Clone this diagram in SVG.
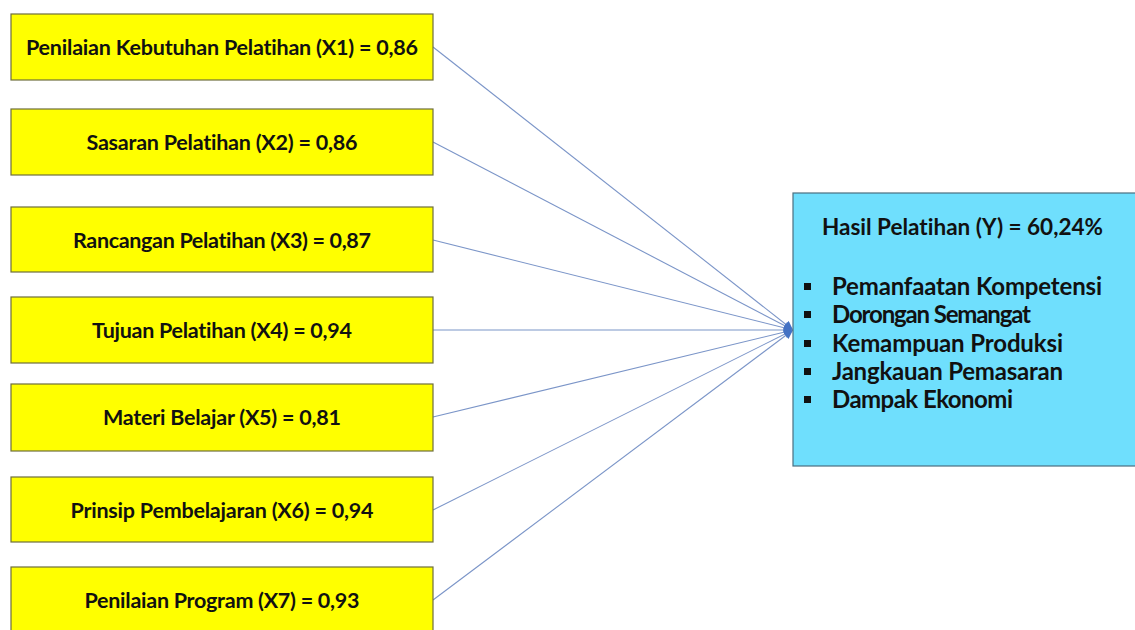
<svg xmlns="http://www.w3.org/2000/svg" width="1135" height="630" viewBox="0 0 1135 630">
<style>
.bx{fill:#ffff00;stroke:#6e6e3c;stroke-width:1.2}
.by{fill:#6fdffd;stroke:#4b6f80;stroke-width:1.2}
.t{font-family:Lato,"Liberation Sans",sans-serif;font-weight:bold;font-size:21.5px;fill:#111;text-anchor:middle;font-variant-ligatures:none;font-feature-settings:"liga" 0,"clig" 0,"dlig" 0}
.tr{font-family:Lato,"Liberation Sans",sans-serif;font-weight:bold;fill:#111;font-variant-ligatures:none;font-feature-settings:"liga" 0,"clig" 0,"dlig" 0}
.c{stroke:#7b95c8;stroke-width:1.1;fill:none}
</style>
<defs>
<marker id="ah" viewBox="0 0 10 10" refX="10" refY="5" markerWidth="10" markerHeight="9" markerUnits="userSpaceOnUse" orient="auto">
<path d="M0,0 L10,5 L0,10 z" fill="#4472c4"/>
</marker>
</defs>
<rect width="1135" height="630" fill="#ffffff"/>
<g id="connectors">
<line class="c" x1="433" y1="47" x2="793" y2="330" marker-end="url(#ah)"/>
<line class="c" x1="433" y1="142" x2="793" y2="330" marker-end="url(#ah)"/>
<line class="c" x1="433" y1="240" x2="793" y2="330" marker-end="url(#ah)"/>
<line class="c" x1="433" y1="330" x2="793" y2="330" marker-end="url(#ah)"/>
<line class="c" x1="433" y1="417" x2="793" y2="330" marker-end="url(#ah)"/>
<line class="c" x1="433" y1="510" x2="793" y2="330" marker-end="url(#ah)"/>
<line class="c" x1="433" y1="600" x2="793" y2="330" marker-end="url(#ah)"/>
</g>
<g id="x1"><rect class="bx" x="11" y="14" width="422" height="66"/><text class="t" x="222" y="55" textLength="392">Penilaian Kebutuhan Pelatihan (X1) = 0,86</text></g>
<g id="x2"><rect class="bx" x="11" y="109" width="422" height="66"/><text class="t" x="222" y="150" textLength="271">Sasaran Pelatihan (X2) = 0,86</text></g>
<g id="x3"><rect class="bx" x="11" y="207" width="422" height="65"/><text class="t" x="222" y="248" textLength="298">Rancangan Pelatihan (X3) = 0,87</text></g>
<g id="x4"><rect class="bx" x="11" y="297" width="422" height="66"/><text class="t" x="222" y="338" textLength="260">Tujuan Pelatihan (X4) = 0,94</text></g>
<g id="x5"><rect class="bx" x="11" y="384" width="422" height="67"/><text class="t" x="222" y="425" textLength="238">Materi Belajar (X5) = 0,81</text></g>
<g id="x6"><rect class="bx" x="11" y="477" width="422" height="65"/><text class="t" x="222" y="518" textLength="303">Prinsip Pembelajaran (X6) = 0,94</text></g>
<g id="x7"><rect class="bx" x="11" y="567" width="422" height="66"/><text class="t" x="222" y="608" textLength="275">Penilaian Program (X7) = 0,93</text></g>
<g id="y">
<rect class="by" x="793" y="193" width="345" height="273"/>
<text class="tr" x="822" y="235" font-size="22.5" textLength="281">Hasil Pelatihan (Y) = 60,24%</text>
<g fill="#111">
<rect x="804" y="283" width="7" height="7"/>
<rect x="804" y="311" width="7" height="7"/>
<rect x="804" y="340" width="7" height="7"/>
<rect x="804" y="368" width="7" height="7"/>
<rect x="804" y="396" width="7" height="7"/>
</g>
<text class="tr" x="832" y="295" font-size="24" textLength="270">Pemanfaatan Kompetensi</text>
<text class="tr" x="832" y="323" font-size="24" textLength="199">Dorongan Semangat</text>
<text class="tr" x="832" y="352" font-size="24" textLength="231">Kemampuan Produksi</text>
<text class="tr" x="832" y="380" font-size="24" textLength="231">Jangkauan Pemasaran</text>
<text class="tr" x="832" y="408" font-size="24" textLength="181">Dampak Ekonomi</text>
</g>
</svg>
